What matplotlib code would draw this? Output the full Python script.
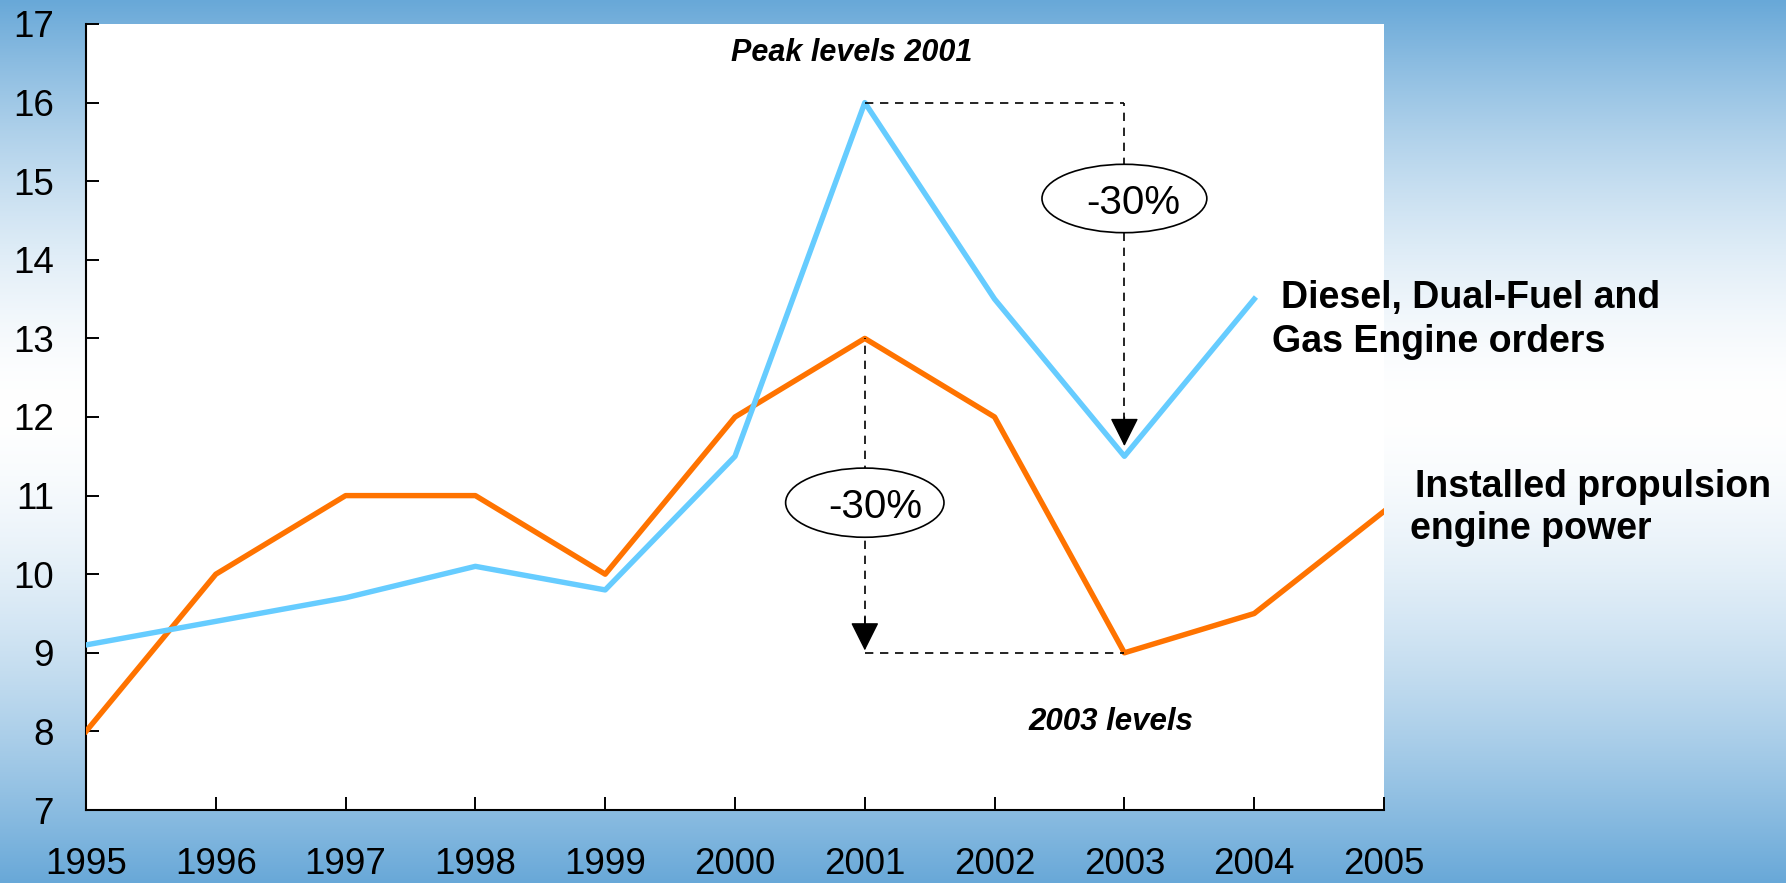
import matplotlib
matplotlib.use("Agg")
import matplotlib.pyplot as plt
from matplotlib.patches import Ellipse
import numpy as np

# yearly series
years = [1995, 1996, 1997, 1998, 1999, 2000, 2001, 2002, 2003, 2004, 2005]
engine_orders = [9.1, 9.4, 9.7, 10.1, 9.8, 11.5, 16.0, 13.5, 11.5, 13.5]
installed_power = [8.0, 10.0, 11.0, 11.0, 10.0, 12.0, 13.0, 12.0, 9.0, 9.5, 10.8]

orders_label = ["Diesel, Dual-Fuel and", "Gas Engine orders"]
power_label = ["Installed propulsion", "engine power"]
drop_label = "-30%"

# drop markers: (start year, end year, from, to)
orders_drop = (2001, 2003, 16.0, 11.5)
power_drop = (2001, 2003, 13.0, 9.0)

plt.rcParams['font.family'] = ['Liberation Sans', 'DejaVu Sans']

fig = plt.figure(figsize=(17.86, 8.83), dpi=100)

# background: blue at top and bottom, fading to white a bit above the middle
bg = fig.add_axes([0, 0, 1, 1], zorder=0)
yy = np.linspace(0, 1, 883)
mid = 0.46
t = np.where(yy < mid, (mid - yy) / mid, (yy - mid) / (1 - mid))
t = np.clip(t, 0, 1) ** 1.6
edge = np.array([0x68, 0xa8, 0xd8]) / 255.0
grad = (1 - t)[:, None] * np.ones(3) + t[:, None] * edge
bg.imshow(grad[:, None, :], aspect='auto', extent=[0, 1, 0, 1])
bg.set_axis_off()

ax = fig.add_axes([86 / 1786, 1 - 810 / 883, 1298 / 1786, 786 / 883], zorder=1)
ax.set_facecolor('white')

ax.plot(years, installed_power, color='#FF7300', lw=3.9, zorder=3)
ax.plot(years[:len(engine_orders)], engine_orders, color='#66CCFF', lw=3.9, zorder=4)

ax.set_xlim(1995, 2005)
ax.set_ylim(7, 17)
ax.set_xticks(years)
ax.set_yticks(range(7, 18))
ax.tick_params(direction='in', length=9.2, width=1.4, labelsize=26.5, colors='black')
ax.tick_params(axis='y', pad=23)
ax.tick_params(axis='x', pad=26.5)
for s in ['top', 'right']:
    ax.spines[s].set_visible(False)
for s in ['left', 'bottom']:
    ax.spines[s].set_linewidth(1.5)

dash = dict(color='black', lw=1.2, linestyles=(0, (5, 4)), zorder=5)

# peak 2001 -> 2003 for engine orders
x0, x1, hi, lo = orders_drop
ax.hlines(hi, x0, x1, **dash)
ax.vlines(x1, lo + 0.45, hi, **dash)
ax.annotate('', xy=(x1, lo + 0.13), xytext=(x1, lo + 0.5),
            arrowprops=dict(arrowstyle='-|>,head_length=0.9,head_width=0.45',
                            color='black', lw=1, shrinkA=0, shrinkB=0,
                            mutation_scale=20), zorder=6)
ax.add_patch(Ellipse((x1, 14.78), 1.27, 0.87, facecolor='white',
                     edgecolor='black', lw=1.2, zorder=6))
ax.text(x1 + 0.07, 14.72, drop_label, fontsize=29, ha='center', va='center', zorder=7)

# 2001 -> 2003 for installed power
x0, x1, hi, lo = power_drop
ax.vlines(x0, lo + 0.37, hi, **dash)
ax.hlines(lo, x0, x1, **dash)
ax.annotate('', xy=(x0, lo + 0.03), xytext=(x0, lo + 0.45),
            arrowprops=dict(arrowstyle='-|>,head_length=0.9,head_width=0.45',
                            color='black', lw=1, shrinkA=0, shrinkB=0,
                            mutation_scale=20), zorder=6)
ax.add_patch(Ellipse((x0, 10.91), 1.22, 0.88, facecolor='white',
                     edgecolor='black', lw=1.2, zorder=6))
ax.text(x0 + 0.08, 10.85, drop_label, fontsize=29, ha='center', va='center', zorder=7)

ax.text(2000.9, 16.63, "Peak levels 2001", fontsize=22, fontweight='bold',
        fontstyle='italic', ha='center', va='center')
ax.text(2002.9, 8.12, "2003 levels", fontsize=22.5, fontweight='bold',
        fontstyle='italic', ha='center', va='center')

# series labels to the right of the plot
ax.text(2004.21, 13.39, orders_label[0], fontsize=27, fontweight='bold',
        ha='left', va='baseline', clip_on=False)
ax.text(2004.14, 12.83, orders_label[1], fontsize=27, fontweight='bold',
        ha='left', va='baseline', clip_on=False)
ax.text(2005.24, 10.98, power_label[0], fontsize=27, fontweight='bold',
        ha='left', va='baseline', clip_on=False)
ax.text(2005.20, 10.45, power_label[1], fontsize=27, fontweight='bold',
        ha='left', va='baseline', clip_on=False)

fig.savefig('out.png', dpi=100)
